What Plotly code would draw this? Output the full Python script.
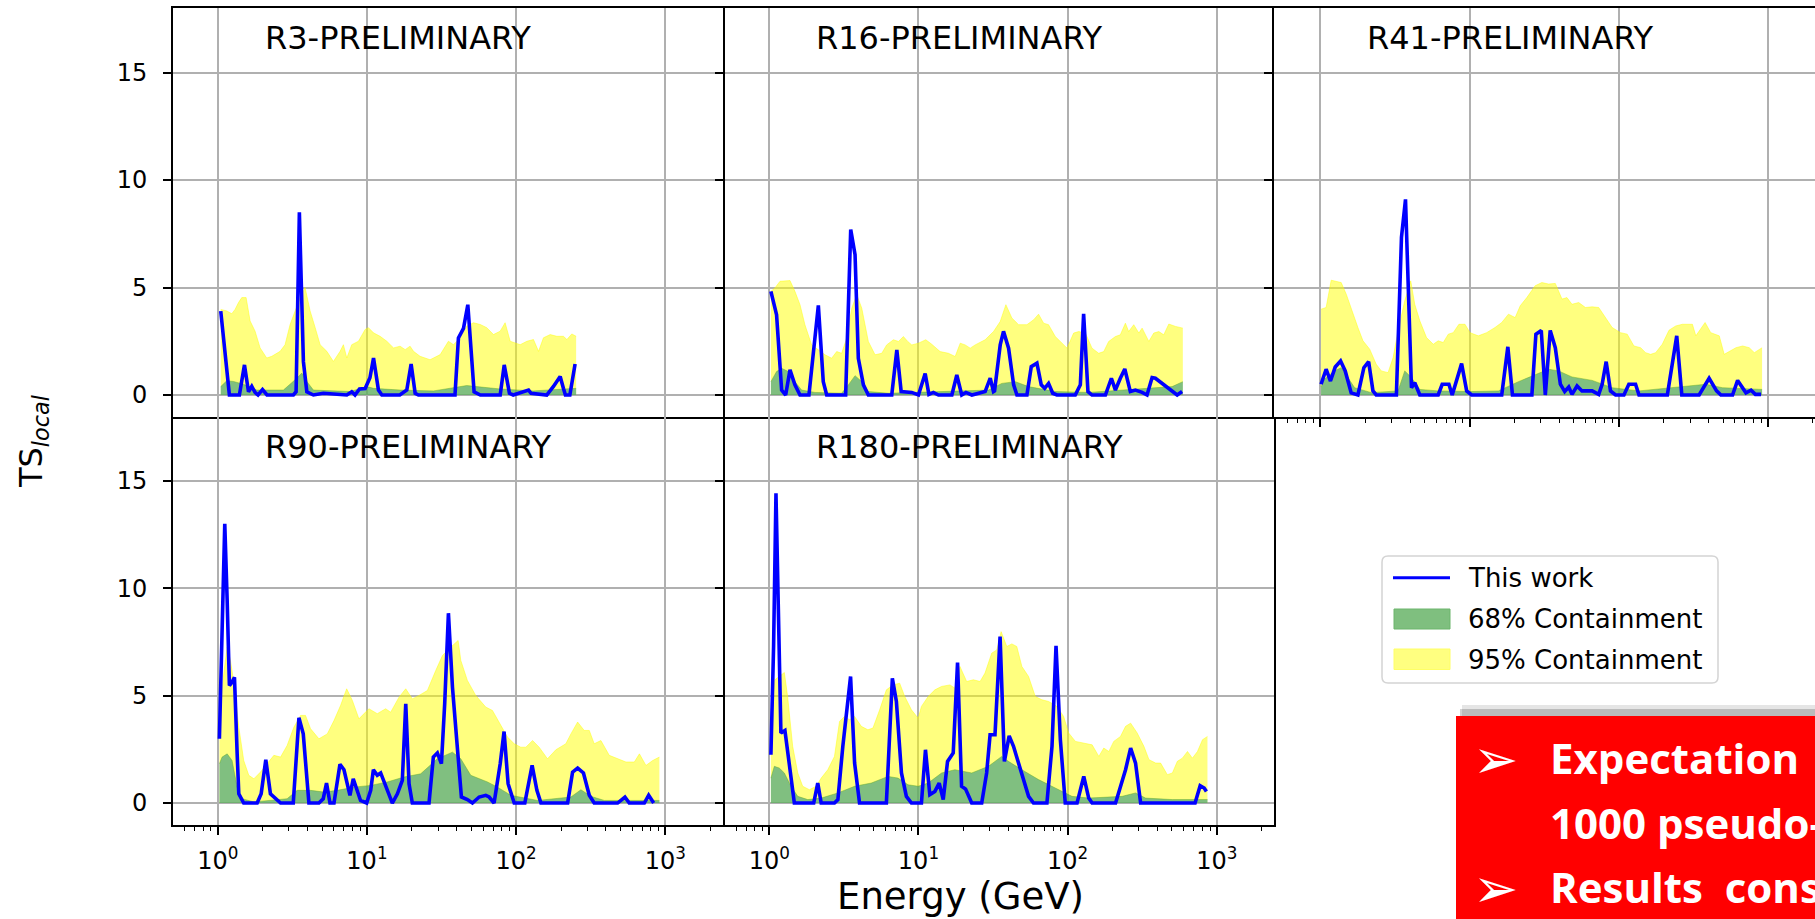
import numpy as np
import plotly.graph_objects as go

W, H = 1815, 919

# ---------------- data: (log10(E / GeV), TS_local) ----------------
R3_LINE = [(0.020, 3.9), (0.078, 0), (0.145, 0), (0.179, 1.4), (0.206, 0.15), (0.228, 0.4), (0.25, 0.12),
           (0.27, 0), (0.30, 0.25), (0.33, 0), (0.507, 0), (0.525, 0.15), (0.547, 8.5), (0.574, 1.55),
           (0.597, 0.15), (0.641, 0), (0.708, 0.08), (0.865, 0), (0.898, 0.15), (0.92, 0), (0.95, 0.28),
           (0.988, 0.3), (1.02, 0.8), (1.044, 1.72), (1.077, 0.23), (1.10, 0), (1.22, 0), (1.267, 0.23),
           (1.296, 1.44), (1.323, 0.08), (1.345, 0), (1.59, 0), (1.613, 2.65), (1.647, 3.1), (1.676, 4.2),
           (1.703, 1.25), (1.718, 0.15), (1.76, 0), (1.893, 0), (1.92, 1.4), (1.955, 0.08), (1.98, 0),
           (2.083, 0.23), (2.10, 0.08), (2.205, 0), (2.25, 0.4), (2.295, 0.86), (2.317, 0.3), (2.33, 0),
           (2.36, 0), (2.395, 1.44)]
R3_BAND95 = [(0.020, 3.98), (0.060, 3.91), (0.094, 3.78), (0.116, 3.98), (0.139, 4.30), (0.161, 4.53),
             (0.190, 4.53), (0.217, 3.44), (0.250, 2.97), (0.284, 2.19), (0.328, 1.72), (0.362, 1.80),
             (0.418, 2.03), (0.451, 2.34), (0.485, 3.28), (0.518, 3.91), (0.552, 4.53), (0.585, 5.00),
             (0.619, 3.91), (0.653, 3.13), (0.686, 2.34), (0.731, 2.03), (0.775, 1.56), (0.820, 2.03),
             (0.842, 2.34), (0.865, 1.72), (0.898, 2.34), (0.943, 2.50), (0.988, 3.05), (1.010, 3.13),
             (1.044, 2.89), (1.088, 2.73), (1.133, 2.50), (1.178, 2.19), (1.222, 2.27), (1.256, 2.11),
             (1.289, 2.27), (1.312, 2.03), (1.356, 1.80), (1.423, 1.64), (1.491, 1.88), (1.546, 2.50),
             (1.580, 2.34), (1.625, 2.66), (1.669, 3.20), (1.714, 3.36), (1.759, 3.28), (1.803, 3.13),
             (1.848, 2.81), (1.893, 2.97), (1.926, 3.36), (1.960, 2.50), (1.993, 2.42), (2.027, 2.34),
             (2.072, 2.50), (2.116, 2.58), (2.150, 2.03), (2.183, 2.66), (2.228, 2.81), (2.273, 2.73),
             (2.317, 2.73), (2.340, 2.58), (2.373, 2.84), (2.402, 2.73)]
R3_BAND68 = [(0.020, 0.39), (0.060, 0.66), (0.105, 0.63), (0.172, 0.50), (0.261, 0.23), (0.440, 0.23),
             (0.530, 0.78), (0.563, 1.02), (0.597, 0.63), (0.641, 0.23), (0.887, 0.16), (0.999, 0.39),
             (1.044, 0.31), (1.222, 0.23), (1.446, 0.19), (1.625, 0.39), (1.669, 0.44), (1.736, 0.39),
             (1.893, 0.28), (2.116, 0.19), (2.340, 0.31), (2.402, 0.31)]

R16_LINE = [(0.011, 4.82), (0.049, 3.73), (0.083, 0.23), (0.11, 0), (0.139, 1.17), (0.172, 0.47), (0.206, 0),
            (0.266, 0), (0.329, 4.17), (0.362, 0.62), (0.385, 0), (0.512, 0), (0.546, 7.7), (0.575, 6.53),
            (0.597, 1.71), (0.631, 0.47), (0.664, 0), (0.821, 0), (0.855, 2.1), (0.884, 0.16), (0.955, 0.12),
            (1.0, 0), (1.045, 1.0), (1.07, 0.03), (1.1, 0.12), (1.134, 0), (1.224, 0), (1.257, 0.93),
            (1.29, 0), (1.318, 0.12), (1.358, 0), (1.447, 0.16), (1.481, 0.78), (1.503, 0.16), (1.51, 0.19),
            (1.548, 2.33), (1.57, 2.96), (1.604, 2.18), (1.638, 0.47), (1.66, 0), (1.727, 0), (1.756, 1.32),
            (1.794, 1.48), (1.823, 0.47), (1.846, 0.31), (1.872, 0.54), (1.9, 0.08), (1.928, 0), (2.051, 0),
            (2.085, 0.47), (2.107, 3.78), (2.136, 0.16), (2.163, 0), (2.253, 0), (2.293, 0.78), (2.32, 0.23),
            (2.353, 0.78), (2.383, 1.21), (2.42, 0.16), (2.454, 0.23), (2.499, 0.12), (2.532, 0),
            (2.566, 0.81), (2.588, 0.78), (2.734, 0), (2.767, 0.16)]
R16_BAND95 = [(0.011, 4.82), (0.038, 4.98), (0.072, 5.29), (0.139, 5.32), (0.172, 4.82), (0.206, 4.20),
              (0.239, 3.27), (0.284, 2.33), (0.329, 2.10), (0.374, 1.87), (0.418, 1.71), (0.452, 2.02),
              (0.485, 1.94), (0.519, 2.64), (0.553, 4.04), (0.586, 4.67), (0.620, 4.04), (0.664, 2.49),
              (0.709, 1.87), (0.754, 1.94), (0.787, 2.33), (0.832, 2.57), (0.866, 2.49), (0.899, 2.72),
              (0.928, 2.49), (0.955, 2.33), (1.000, 2.41), (1.049, 2.57), (1.089, 2.36), (1.145, 2.02),
              (1.201, 1.94), (1.246, 1.79), (1.280, 2.41), (1.313, 2.33), (1.347, 2.18), (1.380, 2.33),
              (1.447, 2.57), (1.503, 2.95), (1.548, 3.42), (1.586, 4.20), (1.626, 3.58), (1.671, 3.27),
              (1.727, 3.27), (1.772, 3.50), (1.805, 3.76), (1.839, 3.34), (1.872, 3.27), (1.917, 2.72),
              (1.996, 2.18), (2.040, 2.88), (2.074, 2.95), (2.119, 2.88), (2.163, 2.18), (2.208, 1.94),
              (2.242, 2.02), (2.275, 2.49), (2.320, 2.72), (2.353, 2.80), (2.387, 3.34), (2.409, 2.95),
              (2.443, 3.27), (2.477, 2.88), (2.499, 3.11), (2.544, 2.49), (2.577, 2.88), (2.611, 2.95),
              (2.644, 2.80), (2.678, 3.30), (2.723, 3.19), (2.772, 3.11)]
R16_BAND68 = [(0.011, 0.62), (0.049, 1.09), (0.083, 1.24), (0.128, 1.09), (0.172, 0.62), (0.217, 0.23),
              (0.306, 0.12), (0.485, 0.08), (0.530, 0.47), (0.575, 0.90), (0.620, 0.62), (0.664, 0.16),
              (0.799, 0.08), (1.022, 0.12), (1.246, 0.16), (1.470, 0.23), (1.559, 0.54), (1.649, 0.62),
              (1.738, 0.39), (1.917, 0.16), (2.141, 0.12), (2.365, 0.23), (2.588, 0.31), (2.700, 0.39),
              (2.772, 0.62)]

R41_LINE = [(0.004, 0.5), (0.038, 1.2), (0.067, 0.65), (0.099, 1.3), (0.135, 1.58), (0.166, 1.12),
            (0.206, 0.1), (0.251, 0), (0.291, 1.27), (0.323, 1.55), (0.352, 0.19), (0.374, 0), (0.509, 0),
            (0.543, 7.33), (0.57, 9.1), (0.599, 3.45), (0.61, 0.34), (0.632, 0.57), (0.666, 0), (0.789, 0),
            (0.816, 0.5), (0.861, 0.5), (0.883, 0), (0.946, 1.46), (0.98, 0.19), (1.013, 0), (1.215, 0),
            (1.256, 2.24), (1.287, 0), (1.417, 0), (1.444, 2.83), (1.48, 3.0), (1.507, 0), (1.54, 3.0),
            (1.574, 2.2), (1.608, 0.5), (1.637, 0.16), (1.664, 0.37), (1.686, 0.03), (1.72, 0.42),
            (1.753, 0.19), (1.821, 0.19), (1.865, 0.03), (1.888, 0.5), (1.915, 1.55), (1.944, 0.19),
            (1.978, 0), (2.034, 0), (2.067, 0.5), (2.112, 0.5), (2.135, 0), (2.325, 0), (2.388, 2.75),
            (2.422, 0), (2.538, 0), (2.605, 0.78), (2.655, 0.19), (2.684, 0), (2.762, 0), (2.796, 0.68),
            (2.83, 0.34), (2.852, 0.1), (2.886, 0.22), (2.915, 0.03), (2.953, 0.03)]
R41_BAND95 = [(0.004, 3.99), (0.038, 4.07), (0.072, 5.34), (0.139, 5.23), (0.173, 4.69), (0.206, 3.99),
              (0.251, 3.14), (0.285, 2.52), (0.330, 2.13), (0.374, 1.43), (0.408, 1.12), (0.453, 1.04),
              (0.487, 1.74), (0.520, 2.98), (0.565, 4.38), (0.605, 5.31), (0.632, 4.22), (0.666, 3.45),
              (0.711, 2.67), (0.756, 2.36), (0.789, 2.52), (0.823, 2.44), (0.857, 2.83), (0.890, 2.90),
              (0.928, 3.29), (0.969, 3.29), (1.002, 2.90), (1.058, 2.75), (1.114, 2.90), (1.170, 3.14),
              (1.215, 3.37), (1.260, 3.76), (1.305, 3.60), (1.339, 4.15), (1.383, 4.53), (1.439, 5.08),
              (1.484, 5.23), (1.529, 5.16), (1.574, 5.19), (1.619, 4.46), (1.652, 4.53), (1.686, 4.22),
              (1.731, 4.30), (1.776, 4.07), (1.821, 4.10), (1.865, 4.07), (1.910, 3.60), (1.955, 3.14),
              (2.011, 2.90), (2.056, 2.83), (2.101, 2.28), (2.146, 2.20), (2.179, 1.97), (2.213, 1.89),
              (2.247, 1.97), (2.291, 2.36), (2.336, 3.01), (2.381, 3.21), (2.426, 3.29), (2.493, 3.29),
              (2.516, 2.75), (2.549, 3.06), (2.578, 3.37), (2.616, 2.90), (2.673, 2.75), (2.706, 1.89),
              (2.751, 2.05), (2.785, 2.20), (2.830, 2.28), (2.874, 2.20), (2.908, 1.97), (2.960, 2.20)]
R41_BAND68 = [(0.004, 0.37), (0.027, 0.73), (0.094, 1.12), (0.139, 1.27), (0.184, 0.81), (0.229, 0.34),
              (0.341, 0.11), (0.520, 0.19), (0.565, 1.12), (0.610, 0.81), (0.666, 0.26), (0.789, 0.19),
              (1.013, 0.16), (1.193, 0.19), (1.327, 0.62), (1.417, 0.89), (1.529, 1.20), (1.596, 1.12),
              (1.686, 0.84), (1.821, 0.68), (1.955, 0.34), (2.135, 0.19), (2.359, 0.34), (2.583, 0.50),
              (2.695, 0.34), (2.960, 0.26)]

R90_LINE = [(0.011, 2.99), (0.029, 7.88), (0.047, 13.0), (0.063, 9.43), (0.078, 5.47), (0.096, 5.63),
            (0.112, 5.86), (0.13, 2.29), (0.141, 0.43), (0.174, 0), (0.264, 0), (0.291, 0.43), (0.322, 2.02),
            (0.353, 0.43), (0.387, 0.2), (0.421, 0), (0.506, 0), (0.521, 1.36), (0.544, 3.97), (0.573, 3.22),
            (0.611, 0), (0.678, 0), (0.707, 0.2), (0.729, 0.93), (0.752, 0), (0.779, 0), (0.819, 1.8),
            (0.846, 1.55), (0.868, 0.9), (0.886, 0.36), (0.908, 1.13), (0.931, 0.59), (0.957, 0.12),
            (0.998, 0), (1.025, 0.59), (1.043, 1.55), (1.069, 1.29), (1.092, 1.4), (1.125, 0.82), (1.17, 0),
            (1.204, 0.43), (1.237, 1.05), (1.26, 4.62), (1.282, 0.9), (1.304, 0), (1.416, 0), (1.445, 2.14),
            (1.472, 2.33), (1.499, 1.83), (1.521, 4.62), (1.546, 8.84), (1.573, 5.4), (1.602, 2.91),
            (1.633, 0.28), (1.673, 0.16), (1.707, 0), (1.752, 0.28), (1.796, 0.36), (1.819, 0.28),
            (1.852, 0), (1.893, 1.83), (1.919, 3.33), (1.946, 0.9), (1.987, 0), (2.058, 0), (2.107, 1.75),
            (2.139, 0.59), (2.166, 0), (2.345, 0), (2.378, 1.44), (2.412, 1.63), (2.451, 1.4), (2.49, 0.36),
            (2.523, 0), (2.68, 0), (2.729, 0.28), (2.758, 0), (2.859, 0), (2.888, 0.36), (2.922, 0)]
R90_BAND95 = [(0.011, 3.84), (0.040, 6.02), (0.063, 7.26), (0.085, 6.64), (0.112, 5.40), (0.141, 3.53),
              (0.174, 1.98), (0.208, 1.29), (0.242, 1.13), (0.286, 1.44), (0.331, 1.83), (0.376, 2.22),
              (0.421, 2.14), (0.465, 2.68), (0.510, 3.53), (0.555, 4.08), (0.588, 4.08), (0.622, 3.46),
              (0.678, 2.99), (0.734, 3.22), (0.779, 3.84), (0.823, 4.54), (0.864, 5.32), (0.902, 4.78),
              (0.946, 3.92), (0.980, 4.16), (1.013, 4.39), (1.069, 4.16), (1.125, 4.39), (1.159, 4.23),
              (1.215, 4.93), (1.260, 5.32), (1.304, 4.85), (1.349, 5.01), (1.405, 5.24), (1.461, 6.17),
              (1.506, 6.87), (1.562, 7.26), (1.611, 7.57), (1.629, 6.64), (1.673, 5.71), (1.729, 5.01),
              (1.796, 4.47), (1.841, 4.31), (1.886, 3.77), (1.942, 3.07), (1.987, 2.76), (2.031, 2.60),
              (2.065, 2.60), (2.110, 2.91), (2.154, 2.60), (2.210, 2.06), (2.266, 2.48), (2.333, 2.76),
              (2.367, 3.22), (2.412, 3.77), (2.456, 3.38), (2.490, 3.38), (2.523, 2.76), (2.568, 2.91),
              (2.624, 2.22), (2.680, 2.06), (2.736, 1.91), (2.792, 1.91), (2.826, 2.29), (2.870, 1.75),
              (2.915, 1.98), (2.960, 2.14)]
R90_BAND68 = [(0.011, 1.83), (0.029, 2.14), (0.063, 2.29), (0.096, 1.98), (0.130, 0.74), (0.163, 0.20),
              (0.242, 0.05), (0.353, 0.12), (0.465, 0.20), (0.532, 0.59), (0.622, 0.59), (0.711, 0.51),
              (0.801, 0.59), (0.913, 0.74), (1.025, 0.82), (1.136, 0.98), (1.248, 1.21), (1.360, 1.36),
              (1.472, 2.06), (1.573, 2.37), (1.629, 2.06), (1.696, 1.29), (1.808, 0.98), (1.875, 0.74),
              (1.964, 0.36), (2.143, 0.12), (2.367, 0.28), (2.434, 0.62), (2.501, 0.31), (2.591, 0.12),
              (2.960, 0.12)]

R180_LINE = [(0.011, 2.25), (0.029, 7.29), (0.045, 14.42), (0.063, 8.84), (0.078, 3.26), (0.105, 3.38),
             (0.123, 2.33), (0.146, 1.0), (0.168, 0), (0.298, 0), (0.325, 0.93), (0.348, 0), (0.437, 0),
             (0.46, 0.16), (0.493, 2.64), (0.545, 5.89), (0.572, 1.86), (0.605, 0), (0.785, 0), (0.825, 5.81),
             (0.852, 4.73), (0.886, 1.4), (0.919, 0.31), (0.953, 0), (1.02, 0), (1.047, 2.48), (1.076, 0.39),
             (1.11, 0.54), (1.139, 0.93), (1.166, 0.16), (1.195, 1.94), (1.233, 2.33), (1.262, 6.54),
             (1.289, 0.78), (1.316, 0.65), (1.357, 0), (1.424, 0), (1.457, 1.4), (1.48, 3.18), (1.513, 3.18),
             (1.547, 7.75), (1.576, 1.94), (1.608, 3.13), (1.637, 2.64), (1.693, 1.4), (1.738, 0.31),
             (1.771, 0), (1.861, 0), (1.895, 2.64), (1.922, 7.32), (1.951, 2.95), (1.984, 0), (2.063, 0),
             (2.108, 1.24), (2.141, 0.23), (2.164, 0), (2.321, 0), (2.388, 1.55), (2.422, 2.56),
             (2.455, 1.86), (2.489, 0), (2.854, 0), (2.888, 0.81), (2.915, 0.7), (2.93, 0.54)]
R180_BAND95 = [(0.011, 4.19), (0.038, 5.74), (0.067, 5.89), (0.101, 6.08), (0.123, 4.96), (0.157, 2.64),
               (0.191, 1.40), (0.224, 0.78), (0.269, 0.62), (0.314, 0.78), (0.348, 1.16), (0.392, 1.55),
               (0.437, 2.17), (0.471, 3.80), (0.504, 4.03), (0.538, 3.88), (0.572, 4.03), (0.617, 3.57),
               (0.661, 3.41), (0.695, 3.49), (0.740, 4.34), (0.785, 5.27), (0.830, 5.50), (0.874, 5.58),
               (0.908, 4.96), (0.953, 4.34), (0.998, 3.95), (1.020, 4.50), (1.065, 4.96), (1.110, 5.27),
               (1.155, 5.43), (1.211, 5.50), (1.244, 5.35), (1.278, 6.36), (1.323, 5.66), (1.368, 5.74),
               (1.413, 5.66), (1.446, 6.05), (1.491, 6.98), (1.525, 7.13), (1.554, 7.98), (1.592, 7.29),
               (1.626, 7.41), (1.659, 7.29), (1.693, 6.36), (1.738, 5.89), (1.783, 4.96), (1.827, 4.81),
               (1.872, 4.73), (1.928, 4.50), (1.973, 4.03), (2.007, 3.26), (2.052, 2.87), (2.108, 2.79),
               (2.164, 2.71), (2.209, 2.17), (2.242, 2.56), (2.276, 2.40), (2.309, 2.87), (2.354, 3.10),
               (2.388, 3.57), (2.422, 3.72), (2.466, 3.26), (2.511, 2.64), (2.545, 2.02), (2.590, 1.86),
               (2.623, 1.86), (2.668, 1.32), (2.702, 1.40), (2.735, 1.94), (2.769, 2.09), (2.803, 2.40),
               (2.836, 2.09), (2.870, 2.40), (2.904, 2.95), (2.937, 3.10)]
R180_BAND68 = [(0.011, 1.16), (0.034, 1.71), (0.067, 1.63), (0.101, 1.40), (0.146, 0.78), (0.191, 0.31),
               (0.258, 0.16), (0.348, 0.23), (0.460, 0.47), (0.572, 0.78), (0.684, 0.93), (0.796, 1.24),
               (0.863, 1.16), (0.930, 0.85), (0.998, 0.78), (1.065, 0.93), (1.155, 1.40), (1.244, 1.55),
               (1.357, 1.40), (1.469, 1.71), (1.558, 2.17), (1.603, 1.94), (1.693, 1.55), (1.805, 1.09),
               (1.917, 0.70), (2.029, 0.31), (2.141, 0.23), (2.365, 0.31), (2.455, 0.47), (2.522, 0.23),
               (2.702, 0.16), (2.937, 0.16)]

PANEL_TITLES = ["R3-PRELIMINARY", "R16-PRELIMINARY", "R41-PRELIMINARY", "R90-PRELIMINARY", "R180-PRELIMINARY"]
PANEL_LINES = [R3_LINE, R16_LINE, R41_LINE, R90_LINE, R180_LINE]
PANEL_BAND95 = [R3_BAND95, R16_BAND95, R41_BAND95, R90_BAND95, R180_BAND95]
PANEL_BAND68 = [R3_BAND68, R16_BAND68, R41_BAND68, R90_BAND68, R180_BAND68]
TITLE_POS = (2.0, 16.6)          # (E in GeV, TS) of the panel labels
LEGEND_LABELS = ["This work", "68% Containment", "95% Containment"]

X_TICK_VALUES = [1, 10, 100, 1000]
X_TICK_TEXT = ["10<sup>0</sup>", "10<sup>1</sup>", "10<sup>2</sup>", "10<sup>3</sup>"]
X_MINOR_VALUES = [0.5, 0.6, 0.7, 0.8, 0.9, 2, 3, 4, 5, 6, 7, 8, 9, 20, 30, 40, 50, 60, 70, 80, 90,
                  200, 300, 400, 500, 600, 700, 800, 900, 2000]
Y_TICK_VALUES = [0, 5, 10, 15]
Y_RANGE = [-1, 18]

# ---------------- styling / layout constants ----------------
FONT = "DejaVu Sans"
BLUE = "#0000ff"
YELLOW = "rgba(255,255,0,0.5)"
GREEN = "rgba(43,148,128,0.6)"
GRID = "#b0b0b0"


def px(x):
    return x / W


def py(y):
    return 1 - y / H


DECADE = 149.2
X_DOMAINS = [(px(173.0), px(724.5)), (px(724.5), px(1274.2)), (px(1274.2), 1.0),
             (px(173.0), px(724.5)), (px(724.5), px(1274.2))]
X_RANGES = [[-0.30, -0.30 + 551.5 / DECADE], [-0.30, -0.30 + 549.7 / DECADE],
            [-0.31, -0.31 + (W - 1274.2) / DECADE],
            [-0.30, -0.30 + 551.5 / DECADE], [-0.30, -0.30 + 549.7 / DECADE]]
TOP_ROW = (py(416.5), py(8.0))
BOT_ROW = (py(824.5), py(416.5))
Y_DOMAINS = [TOP_ROW, TOP_ROW, TOP_ROW, BOT_ROW, BOT_ROW]
# which spines are drawn by mirroring (shared edges drawn only once)
X_MIRROR = [True, True, True, False, False]
Y_MIRROR = [False, False, False, False, True]

fig = go.Figure()


def split(pairs):
    le, v = zip(*pairs)
    return np.power(10.0, np.array(le)), np.array(v)


for i in range(5):
    sfx = "" if i == 0 else str(i + 1)
    xa, ya = "x" + sfx, "y" + sfx
    e95, v95 = split(PANEL_BAND95[i])
    e68, v68 = split(PANEL_BAND68[i])
    el, vl = split(PANEL_LINES[i])
    fig.add_trace(go.Scatter(x=e95, y=v95, mode="lines", fill="tozeroy", fillcolor=YELLOW,
                             line=dict(width=1, color="rgba(255,255,0,0.45)"), name=LEGEND_LABELS[2],
                             showlegend=False, xaxis=xa, yaxis=ya))
    fig.add_trace(go.Scatter(x=e68, y=v68, mode="lines", fill="tozeroy", fillcolor=GREEN,
                             line=dict(width=1, color="rgba(100,170,40,0.45)"), name=LEGEND_LABELS[1],
                             showlegend=False, xaxis=xa, yaxis=ya))
    fig.add_trace(go.Scatter(x=el, y=vl, mode="lines", line=dict(width=3.6, color=BLUE),
                             name=LEGEND_LABELS[0], showlegend=False, xaxis=xa, yaxis=ya))

layout = dict(width=W, height=H, autosize=False, margin=dict(l=0, r=0, t=0, b=0),
              paper_bgcolor="white", plot_bgcolor="white", showlegend=False,
              font=dict(family=FONT, color="black"))

for i in range(5):
    sfx = "" if i == 0 else str(i + 1)
    bottom = i >= 2
    labels = i >= 3
    xax = dict(type="log", domain=list(X_DOMAINS[i]), anchor="y" + sfx, range=X_RANGES[i],
               showline=True, linecolor="black", linewidth=2, mirror=X_MIRROR[i],
               showgrid=True, gridcolor=GRID, gridwidth=1.6, zeroline=False,
               tickmode="array", tickvals=X_TICK_VALUES, ticktext=X_TICK_TEXT,
               ticks="outside" if bottom else "", ticklen=8, tickwidth=1.8, tickcolor="black",
               showticklabels=labels, tickfont=dict(family=FONT, size=24, color="black"),
               ticklabelstandoff=6,
               minor=dict(tickmode="array", tickvals=X_MINOR_VALUES,
                          ticks="outside" if bottom else "", ticklen=4.5, tickwidth=1.4,
                          tickcolor="black", showgrid=False))
    yax = dict(domain=list(Y_DOMAINS[i]), anchor="x" + sfx, range=Y_RANGE,
               showline=True, linecolor="black", linewidth=2, mirror=Y_MIRROR[i],
               showgrid=True, gridcolor=GRID, gridwidth=1.6, zeroline=False,
               tickmode="array", tickvals=Y_TICK_VALUES,
               ticks="outside", ticklen=8, tickwidth=1.8, tickcolor="black",
               showticklabels=(i in (0, 3)), tickfont=dict(family=FONT, size=24, color="black"),
               ticklabelstandoff=11)
    layout["xaxis" + sfx] = xax
    layout["yaxis" + sfx] = yax

annotations = []
for i in range(5):
    sfx = "" if i == 0 else str(i + 1)
    annotations.append(dict(text=PANEL_TITLES[i], xref="x" + sfx, yref="y" + sfx,
                            x=np.log10(TITLE_POS[0]), y=TITLE_POS[1], xanchor="left", yanchor="middle",
                            showarrow=False, font=dict(family=FONT, size=32, color="black")))

annotations.append(dict(text="Energy (GeV)", xref="paper", yref="paper", x=px(960), y=py(896),
                        xanchor="center", yanchor="middle", showarrow=False,
                        font=dict(family=FONT, size=37, color="black")))
annotations.append(dict(text="TS<sub><i>local</i></sub>", xref="paper", yref="paper", x=px(33), y=py(441),
                        xanchor="center", yanchor="middle", textangle=-90, showarrow=False,
                        font=dict(family=FONT, size=32, color="black")))

# legend (drawn manually to match the wide rectangular swatches)
LEG = dict(x0=1382, y0=556, x1=1718, y1=683, r=6)


def rounded(x0, y0, x1, y1, r):
    return (f"M {px(x0 + r)},{py(y0)} L {px(x1 - r)},{py(y0)} Q {px(x1)},{py(y0)} {px(x1)},{py(y0 + r)} "
            f"L {px(x1)},{py(y1 - r)} Q {px(x1)},{py(y1)} {px(x1 - r)},{py(y1)} "
            f"L {px(x0 + r)},{py(y1)} Q {px(x0)},{py(y1)} {px(x0)},{py(y1 - r)} "
            f"L {px(x0)},{py(y0 + r)} Q {px(x0)},{py(y0)} {px(x0 + r)},{py(y0)} Z")


shapes = [
    dict(type="path", xref="paper", yref="paper",
         path=rounded(LEG["x0"], LEG["y0"], LEG["x1"], LEG["y1"], LEG["r"]),
         fillcolor="rgba(255,255,255,0.85)", line=dict(color="#d4d4d4", width=1.5), layer="above"),
    dict(type="line", xref="paper", yref="paper", x0=px(1393), x1=px(1450), y0=py(577.7), y1=py(577.7),
         line=dict(color=BLUE, width=3), layer="above"),
    dict(type="rect", xref="paper", yref="paper", x0=px(1394), x1=px(1450), y0=py(609), y1=py(629),
         fillcolor="#7fbf7f", line=dict(color="#6db56d", width=1), layer="above"),
    dict(type="rect", xref="paper", yref="paper", x0=px(1394), x1=px(1450), y0=py(649), y1=py(669.5),
         fillcolor="#ffff80", line=dict(color="#ffff66", width=1), layer="above"),
    # red call-out box with a soft shadow
    dict(type="rect", xref="paper", yref="paper", x0=px(1462), x1=1.0, y0=py(716), y1=py(705),
         fillcolor="rgba(0,0,0,0.10)", line=dict(width=0), layer="above"),
    dict(type="rect", xref="paper", yref="paper", x0=px(1460), x1=1.0, y0=py(716), y1=py(709),
         fillcolor="rgba(0,0,0,0.18)", line=dict(width=0), layer="above"),
    dict(type="rect", xref="paper", yref="paper", x0=px(1456), x1=1.0, y0=0.0, y1=py(716),
         fillcolor="#ff0000", line=dict(width=0), layer="above"),
]
for label, yc in zip(LEGEND_LABELS, [577.7, 619, 659.5]):
    annotations.append(dict(text=label, xref="paper", yref="paper", x=px(1466), y=py(yc),
                            xanchor="left", yanchor="middle", showarrow=False,
                            font=dict(family=FONT, size=26, color="black")))

CALLOUT_LINES = ["Expectation", "1000 pseudo-experiments", "Results  consistent"]
CALLOUT_Y = [757, 822, 886]
for txt, yc in zip(CALLOUT_LINES, CALLOUT_Y):
    annotations.append(dict(text=f"<b>{txt}</b>", xref="paper", yref="paper", x=px(1548), y=py(yc),
                            xanchor="left", yanchor="middle", showarrow=False,
                            font=dict(family="Open Sans", size=42, color="white")))
for yc in (CALLOUT_Y[0], CALLOUT_Y[2]):
    annotations.append(dict(text="➢", xref="paper", yref="paper", x=px(1495), y=py(yc + 2),
                            xanchor="center", yanchor="middle", showarrow=False,
                            font=dict(family=FONT, size=54, color="white")))

layout["annotations"] = annotations
layout["shapes"] = shapes
fig.update_layout(**layout)
fig.write_html("out.html")
